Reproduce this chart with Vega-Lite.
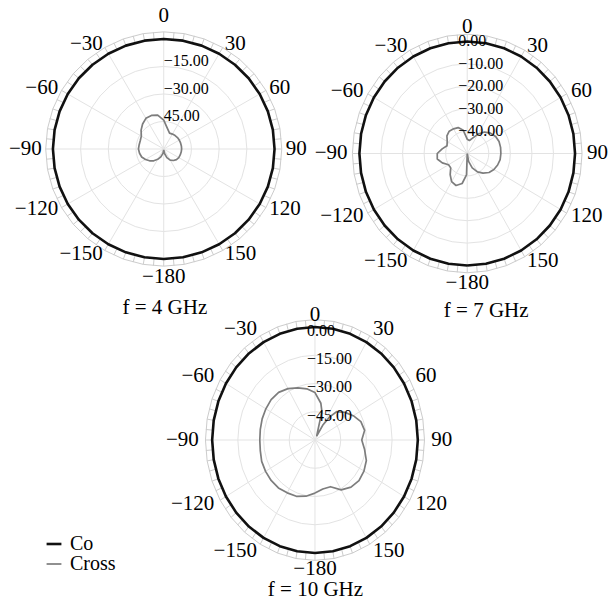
{
"$schema":"https://vega.github.io/schema/vega-lite/v6.json",
"width":608,"height":603,
"autosize":{"type":"fit","contains":"padding"},
"padding":0,
"background":"white",
"config":{"view":{"stroke":null},"text":{"font":"Liberation Serif"}},
"datasets":{
"grid":[
{"f":"4","v":0,"a":[-180,-170,-160,-150,-140,-130,-120,-110,-100,-90,-80,-70,-60,-50,-40,-30,-20,-10,0,10,20,30,40,50,60,70,80,90,100,110,120,130,140,150,160,170,180]},
{"f":"4","v":-15,"a":[-180,-170,-160,-150,-140,-130,-120,-110,-100,-90,-80,-70,-60,-50,-40,-30,-20,-10,0,10,20,30,40,50,60,70,80,90,100,110,120,130,140,150,160,170,180]},
{"f":"4","v":-30,"a":[-180,-170,-160,-150,-140,-130,-120,-110,-100,-90,-80,-70,-60,-50,-40,-30,-20,-10,0,10,20,30,40,50,60,70,80,90,100,110,120,130,140,150,160,170,180]},
{"f":"4","v":-45,"a":[-180,-170,-160,-150,-140,-130,-120,-110,-100,-90,-80,-70,-60,-50,-40,-30,-20,-10,0,10,20,30,40,50,60,70,80,90,100,110,120,130,140,150,160,170,180]},
{"f":"7","v":0,"a":[-180,-170,-160,-150,-140,-130,-120,-110,-100,-90,-80,-70,-60,-50,-40,-30,-20,-10,0,10,20,30,40,50,60,70,80,90,100,110,120,130,140,150,160,170,180]},
{"f":"7","v":-10,"a":[-180,-170,-160,-150,-140,-130,-120,-110,-100,-90,-80,-70,-60,-50,-40,-30,-20,-10,0,10,20,30,40,50,60,70,80,90,100,110,120,130,140,150,160,170,180]},
{"f":"7","v":-20,"a":[-180,-170,-160,-150,-140,-130,-120,-110,-100,-90,-80,-70,-60,-50,-40,-30,-20,-10,0,10,20,30,40,50,60,70,80,90,100,110,120,130,140,150,160,170,180]},
{"f":"7","v":-30,"a":[-180,-170,-160,-150,-140,-130,-120,-110,-100,-90,-80,-70,-60,-50,-40,-30,-20,-10,0,10,20,30,40,50,60,70,80,90,100,110,120,130,140,150,160,170,180]},
{"f":"7","v":-40,"a":[-180,-170,-160,-150,-140,-130,-120,-110,-100,-90,-80,-70,-60,-50,-40,-30,-20,-10,0,10,20,30,40,50,60,70,80,90,100,110,120,130,140,150,160,170,180]},
{"f":"10","v":0,"a":[-180,-170,-160,-150,-140,-130,-120,-110,-100,-90,-80,-70,-60,-50,-40,-30,-20,-10,0,10,20,30,40,50,60,70,80,90,100,110,120,130,140,150,160,170,180]},
{"f":"10","v":-15,"a":[-180,-170,-160,-150,-140,-130,-120,-110,-100,-90,-80,-70,-60,-50,-40,-30,-20,-10,0,10,20,30,40,50,60,70,80,90,100,110,120,130,140,150,160,170,180]},
{"f":"10","v":-30,"a":[-180,-170,-160,-150,-140,-130,-120,-110,-100,-90,-80,-70,-60,-50,-40,-30,-20,-10,0,10,20,30,40,50,60,70,80,90,100,110,120,130,140,150,160,170,180]},
{"f":"10","v":-45,"a":[-180,-170,-160,-150,-140,-130,-120,-110,-100,-90,-80,-70,-60,-50,-40,-30,-20,-10,0,10,20,30,40,50,60,70,80,90,100,110,120,130,140,150,160,170,180]}
],
"sp":[{"a":[0,30,60,90,120,150,180,210,240,270,300,330]}],
"tk":[{"a":[0,5,10,15,20,25,30,35,40,45,50,55,60,65,70,75,80,85,90,95,100,105,110,115,120,125,130,135,140,145,150,155,160,165,170,175,180,185,190,195,200,205,210,215,220,225,230,235,240,245,250,255,260,265,270,275,280,285,290,295,300,305,310,315,320,325,330,335,340,345,350,355]}],
"al":[{"a":0,"t":"0"},{"a":30,"t":"30"},{"a":60,"t":"60"},{"a":90,"t":"90"},{"a":120,"t":"120"},{"a":150,"t":"150"},{"a":180,"t":"−180"},{"a":-150,"t":"−150"},{"a":-120,"t":"−120"},{"a":-90,"t":"−90"},{"a":-60,"t":"−60"},{"a":-30,"t":"−30"}],
"rl":[{"f":"4","v":-15,"t":"−15.00"},{"f":"4","v":-30,"t":"−30.00"},{"f":"4","v":-45,"t":"45.00"},
{"f":"7","v":0,"t":"0.00"},{"f":"7","v":-10,"t":"−10.00"},{"f":"7","v":-20,"t":"−20.00"},{"f":"7","v":-30,"t":"−30.00"},{"f":"7","v":-40,"t":"−40.00"},
{"f":"10","v":0,"t":"0.00"},{"f":"10","v":-15,"t":"−15.00"},{"f":"10","v":-30,"t":"−30.00"},{"f":"10","v":-45,"t":"−45.00"}],
"ttl":[{"f":"4","t":"f = 4 GHz"},{"f":"7","t":"f = 7 GHz"},{"f":"10","t":"f = 10 GHz"}],
"pat":[
{"f":"4","s":"Co","a":-180,"v":0},{"f":"4","s":"Co","a":-170,"v":0},{"f":"4","s":"Co","a":-160,"v":0},{"f":"4","s":"Co","a":-150,"v":0},{"f":"4","s":"Co","a":-140,"v":0},{"f":"4","s":"Co","a":-130,"v":0},{"f":"4","s":"Co","a":-120,"v":0},{"f":"4","s":"Co","a":-110,"v":0},{"f":"4","s":"Co","a":-100,"v":0},{"f":"4","s":"Co","a":-90,"v":0},{"f":"4","s":"Co","a":-80,"v":0},{"f":"4","s":"Co","a":-70,"v":0},{"f":"4","s":"Co","a":-60,"v":0},{"f":"4","s":"Co","a":-50,"v":0},{"f":"4","s":"Co","a":-40,"v":0},{"f":"4","s":"Co","a":-30,"v":0},{"f":"4","s":"Co","a":-20,"v":0},{"f":"4","s":"Co","a":-10,"v":0},{"f":"4","s":"Co","a":0,"v":0},{"f":"4","s":"Co","a":10,"v":0},{"f":"4","s":"Co","a":20,"v":0},{"f":"4","s":"Co","a":30,"v":0},{"f":"4","s":"Co","a":40,"v":0},{"f":"4","s":"Co","a":50,"v":0},{"f":"4","s":"Co","a":60,"v":0},{"f":"4","s":"Co","a":70,"v":0},{"f":"4","s":"Co","a":80,"v":0},{"f":"4","s":"Co","a":90,"v":0},{"f":"4","s":"Co","a":100,"v":0},{"f":"4","s":"Co","a":110,"v":0},{"f":"4","s":"Co","a":120,"v":0},{"f":"4","s":"Co","a":130,"v":0},{"f":"4","s":"Co","a":140,"v":0},{"f":"4","s":"Co","a":150,"v":0},{"f":"4","s":"Co","a":160,"v":0},{"f":"4","s":"Co","a":170,"v":0},{"f":"4","s":"Co","a":180,"v":0},
{"f":"4","s":"Cross","a":-180,"v":-59.5},{"f":"4","s":"Cross","a":-170,"v":-57.6},{"f":"4","s":"Cross","a":-160,"v":-55.4},{"f":"4","s":"Cross","a":-150,"v":-53.5},{"f":"4","s":"Cross","a":-140,"v":-51.6},{"f":"4","s":"Cross","a":-130,"v":-50.0},{"f":"4","s":"Cross","a":-120,"v":-48.6},{"f":"4","s":"Cross","a":-110,"v":-47.3},{"f":"4","s":"Cross","a":-100,"v":-46.7},{"f":"4","s":"Cross","a":-90,"v":-46.3},{"f":"4","s":"Cross","a":-80,"v":-46.5},{"f":"4","s":"Cross","a":-70,"v":-46.5},{"f":"4","s":"Cross","a":-60,"v":-46.0},{"f":"4","s":"Cross","a":-50,"v":-44.0},{"f":"4","s":"Cross","a":-40,"v":-42.2},{"f":"4","s":"Cross","a":-30,"v":-40.7},{"f":"4","s":"Cross","a":-20,"v":-40.5},{"f":"4","s":"Cross","a":-10,"v":-41.2},{"f":"4","s":"Cross","a":0,"v":-44.3},{"f":"4","s":"Cross","a":10,"v":-48.6},{"f":"4","s":"Cross","a":20,"v":-50.8},{"f":"4","s":"Cross","a":30,"v":-50.6},{"f":"4","s":"Cross","a":40,"v":-50.4},{"f":"4","s":"Cross","a":50,"v":-50.3},{"f":"4","s":"Cross","a":60,"v":-50.3},{"f":"4","s":"Cross","a":70,"v":-50.3},{"f":"4","s":"Cross","a":80,"v":-50.3},{"f":"4","s":"Cross","a":90,"v":-50.3},{"f":"4","s":"Cross","a":100,"v":-50.4},{"f":"4","s":"Cross","a":110,"v":-50.5},{"f":"4","s":"Cross","a":120,"v":-50.6},{"f":"4","s":"Cross","a":130,"v":-51.0},{"f":"4","s":"Cross","a":140,"v":-51.8},{"f":"4","s":"Cross","a":150,"v":-53.0},{"f":"4","s":"Cross","a":160,"v":-55.0},{"f":"4","s":"Cross","a":170,"v":-57.5},{"f":"4","s":"Cross","a":180,"v":-59.5},
{"f":"7","s":"Co","a":-180,"v":0},{"f":"7","s":"Co","a":-170,"v":0},{"f":"7","s":"Co","a":-160,"v":0},{"f":"7","s":"Co","a":-150,"v":0},{"f":"7","s":"Co","a":-140,"v":0},{"f":"7","s":"Co","a":-130,"v":0},{"f":"7","s":"Co","a":-120,"v":0},{"f":"7","s":"Co","a":-110,"v":0},{"f":"7","s":"Co","a":-100,"v":0},{"f":"7","s":"Co","a":-90,"v":0},{"f":"7","s":"Co","a":-80,"v":0},{"f":"7","s":"Co","a":-70,"v":0},{"f":"7","s":"Co","a":-60,"v":0},{"f":"7","s":"Co","a":-50,"v":0},{"f":"7","s":"Co","a":-40,"v":0},{"f":"7","s":"Co","a":-30,"v":0},{"f":"7","s":"Co","a":-20,"v":0},{"f":"7","s":"Co","a":-10,"v":0},{"f":"7","s":"Co","a":0,"v":0},{"f":"7","s":"Co","a":10,"v":0},{"f":"7","s":"Co","a":20,"v":0},{"f":"7","s":"Co","a":30,"v":0},{"f":"7","s":"Co","a":40,"v":0},{"f":"7","s":"Co","a":50,"v":0},{"f":"7","s":"Co","a":60,"v":0},{"f":"7","s":"Co","a":70,"v":0},{"f":"7","s":"Co","a":80,"v":0},{"f":"7","s":"Co","a":90,"v":0},{"f":"7","s":"Co","a":100,"v":0},{"f":"7","s":"Co","a":110,"v":0},{"f":"7","s":"Co","a":120,"v":0},{"f":"7","s":"Co","a":130,"v":0},{"f":"7","s":"Co","a":140,"v":0},{"f":"7","s":"Co","a":150,"v":0},{"f":"7","s":"Co","a":160,"v":0},{"f":"7","s":"Co","a":170,"v":0},{"f":"7","s":"Co","a":180,"v":0},
{"f":"7","s":"Cross","a":-180,"v":-50},{"f":"7","s":"Cross","a":-178,"v":-40.5},{"f":"7","s":"Cross","a":-170,"v":-36.4},{"f":"7","s":"Cross","a":-160,"v":-34.8},{"f":"7","s":"Cross","a":-150,"v":-35.5},{"f":"7","s":"Cross","a":-140,"v":-37.7},{"f":"7","s":"Cross","a":-130,"v":-40.0},{"f":"7","s":"Cross","a":-120,"v":-40.0},{"f":"7","s":"Cross","a":-110,"v":-37.7},{"f":"7","s":"Cross","a":-100,"v":-35.9},{"f":"7","s":"Cross","a":-90,"v":-36.1},{"f":"7","s":"Cross","a":-80,"v":-38.2},{"f":"7","s":"Cross","a":-70,"v":-40.0},{"f":"7","s":"Cross","a":-60,"v":-39.3},{"f":"7","s":"Cross","a":-50,"v":-37.7},{"f":"7","s":"Cross","a":-40,"v":-37.0},{"f":"7","s":"Cross","a":-30,"v":-37.3},{"f":"7","s":"Cross","a":-20,"v":-37.7},{"f":"7","s":"Cross","a":-10,"v":-39.5},{"f":"7","s":"Cross","a":0,"v":-43.6},{"f":"7","s":"Cross","a":10,"v":-44.1},{"f":"7","s":"Cross","a":20,"v":-42.7},{"f":"7","s":"Cross","a":30,"v":-40.0},{"f":"7","s":"Cross","a":40,"v":-37.5},{"f":"7","s":"Cross","a":50,"v":-35.9},{"f":"7","s":"Cross","a":60,"v":-34.8},{"f":"7","s":"Cross","a":70,"v":-34.3},{"f":"7","s":"Cross","a":80,"v":-34.3},{"f":"7","s":"Cross","a":90,"v":-34.4},{"f":"7","s":"Cross","a":100,"v":-34.5},{"f":"7","s":"Cross","a":110,"v":-35.0},{"f":"7","s":"Cross","a":120,"v":-35.7},{"f":"7","s":"Cross","a":130,"v":-36.8},{"f":"7","s":"Cross","a":140,"v":-38.6},{"f":"7","s":"Cross","a":150,"v":-40.5},{"f":"7","s":"Cross","a":160,"v":-43.2},{"f":"7","s":"Cross","a":170,"v":-46.4},{"f":"7","s":"Cross","a":180,"v":-50},
{"f":"10","s":"Co","a":-180,"v":0},{"f":"10","s":"Co","a":-170,"v":0},{"f":"10","s":"Co","a":-160,"v":0},{"f":"10","s":"Co","a":-150,"v":0},{"f":"10","s":"Co","a":-140,"v":0},{"f":"10","s":"Co","a":-130,"v":0},{"f":"10","s":"Co","a":-120,"v":0},{"f":"10","s":"Co","a":-110,"v":0},{"f":"10","s":"Co","a":-100,"v":0},{"f":"10","s":"Co","a":-90,"v":0},{"f":"10","s":"Co","a":-80,"v":0},{"f":"10","s":"Co","a":-70,"v":0},{"f":"10","s":"Co","a":-60,"v":0},{"f":"10","s":"Co","a":-50,"v":0},{"f":"10","s":"Co","a":-40,"v":0},{"f":"10","s":"Co","a":-30,"v":0},{"f":"10","s":"Co","a":-20,"v":0},{"f":"10","s":"Co","a":-10,"v":0},{"f":"10","s":"Co","a":0,"v":0},{"f":"10","s":"Co","a":10,"v":0},{"f":"10","s":"Co","a":20,"v":0},{"f":"10","s":"Co","a":30,"v":0},{"f":"10","s":"Co","a":40,"v":0},{"f":"10","s":"Co","a":50,"v":0},{"f":"10","s":"Co","a":60,"v":0},{"f":"10","s":"Co","a":70,"v":0},{"f":"10","s":"Co","a":80,"v":0},{"f":"10","s":"Co","a":90,"v":0},{"f":"10","s":"Co","a":100,"v":0},{"f":"10","s":"Co","a":110,"v":0},{"f":"10","s":"Co","a":120,"v":0},{"f":"10","s":"Co","a":130,"v":0},{"f":"10","s":"Co","a":140,"v":0},{"f":"10","s":"Co","a":150,"v":0},{"f":"10","s":"Co","a":160,"v":0},{"f":"10","s":"Co","a":170,"v":0},{"f":"10","s":"Co","a":180,"v":0},
{"f":"10","s":"Cross","a":-180,"v":-31.8},{"f":"10","s":"Cross","a":-170,"v":-29.7},{"f":"10","s":"Cross","a":-160,"v":-28.2},{"f":"10","s":"Cross","a":-150,"v":-27.6},{"f":"10","s":"Cross","a":-140,"v":-26.8},{"f":"10","s":"Cross","a":-130,"v":-26.6},{"f":"10","s":"Cross","a":-120,"v":-26.7},{"f":"10","s":"Cross","a":-110,"v":-26.9},{"f":"10","s":"Cross","a":-100,"v":-27.6},{"f":"10","s":"Cross","a":-90,"v":-27.8},{"f":"10","s":"Cross","a":-80,"v":-27.6},{"f":"10","s":"Cross","a":-70,"v":-27.2},{"f":"10","s":"Cross","a":-60,"v":-26.9},{"f":"10","s":"Cross","a":-50,"v":-26.6},{"f":"10","s":"Cross","a":-40,"v":-27.0},{"f":"10","s":"Cross","a":-30,"v":-28.5},{"f":"10","s":"Cross","a":-20,"v":-30.6},{"f":"10","s":"Cross","a":-10,"v":-32.4},{"f":"10","s":"Cross","a":0,"v":-34.8},{"f":"10","s":"Cross","a":10,"v":-40.2},{"f":"10","s":"Cross","a":15,"v":-44.4},{"f":"10","s":"Cross","a":20,"v":-56.0},{"f":"10","s":"Cross","a":25,"v":-57.5},{"f":"10","s":"Cross","a":30,"v":-51.0},{"f":"10","s":"Cross","a":35,"v":-45.0},{"f":"10","s":"Cross","a":40,"v":-40.4},{"f":"10","s":"Cross","a":50,"v":-37.2},{"f":"10","s":"Cross","a":60,"v":-34.2},{"f":"10","s":"Cross","a":70,"v":-31.5},{"f":"10","s":"Cross","a":80,"v":-30.6},{"f":"10","s":"Cross","a":90,"v":-32.7},{"f":"10","s":"Cross","a":100,"v":-30.6},{"f":"10","s":"Cross","a":110,"v":-28.1},{"f":"10","s":"Cross","a":120,"v":-27.0},{"f":"10","s":"Cross","a":130,"v":-26.5},{"f":"10","s":"Cross","a":140,"v":-27.3},{"f":"10","s":"Cross","a":150,"v":-29.4},{"f":"10","s":"Cross","a":160,"v":-33.6},{"f":"10","s":"Cross","a":170,"v":-33.6},{"f":"10","s":"Cross","a":180,"v":-31.8}
]
},
"layer":[
{
"encoding":{
"x":{"field":"x","type":"quantitative","scale":{"domain":[-1.4775,4.0],"nice":false,"zero":false},"axis":null},
"y":{"field":"y","type":"quantitative","scale":{"domain":[-4.1273,1.3545],"nice":false,"zero":false},"axis":null}
},
"layer":[
{"data":{"name":"grid"},"transform":[{"filter":"datum.f=='4'"},{"flatten":["a"]},{"calculate":"(datum.v+60)/60","as":"r"},{"calculate":"datum.r*sin(datum.a*PI/180)","as":"x"},{"calculate":"datum.r*cos(datum.a*PI/180)","as":"y"}],"mark":{"type":"line","stroke":"#e3e3e3","strokeWidth":1},"encoding":{"detail":{"field":"v","type":"nominal"},"order":{"field":"a","type":"quantitative"}}},
{"data":{"name":"grid"},"transform":[{"filter":"datum.f=='4' && datum.v==0"},{"flatten":["a"]},{"calculate":"1.065*sin(datum.a*PI/180)","as":"x"},{"calculate":"1.065*cos(datum.a*PI/180)","as":"y"}],"mark":{"type":"line","stroke":"#cccccc","strokeWidth":1},"encoding":{"order":{"field":"a","type":"quantitative"}}},
{"data":{"name":"sp"},"transform":[{"flatten":["a"]},{"calculate":"0","as":"x"},{"calculate":"0","as":"y"},{"calculate":"sin(datum.a*PI/180)","as":"x2"},{"calculate":"cos(datum.a*PI/180)","as":"y2"}],"mark":{"type":"rule","stroke":"#e3e3e3","strokeWidth":1},"encoding":{"x2":{"field":"x2"},"y2":{"field":"y2"}}},
{"data":{"name":"tk"},"transform":[{"flatten":["a"]},{"calculate":"sin(datum.a*PI/180)","as":"x"},{"calculate":"cos(datum.a*PI/180)","as":"y"},{"calculate":"1.065*datum.x","as":"x2"},{"calculate":"1.065*datum.y","as":"y2"}],"mark":{"type":"rule","stroke":"#cccccc","strokeWidth":1},"encoding":{"x2":{"field":"x2"},"y2":{"field":"y2"}}},
{"data":{"name":"pat"},"transform":[{"filter":"datum.f=='4'"},{"calculate":"max(0,(datum.v+60)/60)","as":"r"},{"calculate":"datum.r*sin(datum.a*PI/180)","as":"x"},{"calculate":"datum.r*cos(datum.a*PI/180)","as":"y"}],"mark":{"type":"line","strokeJoin":"round"},"encoding":{"color":{"field":"s","type":"nominal","scale":{"domain":["Co","Cross"],"range":["#111111","#7d7d7d"]},"legend":{"title":null,"orient":"none","legendX":44,"legendY":534,"symbolType":"stroke","symbolSize":220,"labelFont":"Liberation Serif","labelFontSize":20,"labelColor":"#000","padding":0,"rowPadding":0,"labelOffset":6}},"strokeWidth":{"field":"s","type":"nominal","scale":{"domain":["Co","Cross"],"range":[2.6,1.7]},"legend":{"title":null,"orient":"none","legendX":44,"legendY":534,"symbolType":"stroke","symbolSize":220,"labelFont":"Liberation Serif","labelFontSize":20,"labelColor":"#000","padding":0,"rowPadding":0,"labelOffset":6}},"order":{"field":"a","type":"quantitative"}}},
{"data":{"name":"rl"},"transform":[{"filter":"datum.f=='4'"},{"calculate":"0","as":"x"},{"calculate":"(datum.v+60)/60","as":"y"}],"mark":{"type":"text","align":"left","baseline":"middle","dx":0,"dy":-5,"fontSize":16,"font":"Liberation Serif","color":"#000"},"encoding":{"text":{"field":"t"}}},
{"data":{"name":"al"},"transform":[{"filter":"datum.a>0 && datum.a<180"},{"calculate":"1.1*sin(datum.a*PI/180)","as":"x"},{"calculate":"1.1*cos(datum.a*PI/180)","as":"y"}],"mark":{"type":"text","align":"left","baseline":"middle","fontSize":21,"font":"Liberation Serif","color":"#000"},"encoding":{"text":{"field":"t"}}},
{"data":{"name":"al"},"transform":[{"filter":"datum.a<0"},{"calculate":"1.1*sin(datum.a*PI/180)","as":"x"},{"calculate":"1.1*cos(datum.a*PI/180)","as":"y"}],"mark":{"type":"text","align":"right","baseline":"middle","fontSize":21,"font":"Liberation Serif","color":"#000"},"encoding":{"text":{"field":"t"}}},
{"data":{"name":"al"},"transform":[{"filter":"datum.a==0 || datum.a==180"},{"calculate":"0","as":"x"},{"calculate":"datum.a==0 ? 1.21 : -1.16","as":"y"}],"mark":{"type":"text","align":"center","baseline":"middle","fontSize":21,"font":"Liberation Serif","color":"#000"},"encoding":{"text":{"field":"t"}}},
{"data":{"name":"ttl"},"transform":[{"filter":"datum.f=='4'"},{"calculate":"0.01","as":"x"},{"calculate":"-1.445","as":"y"}],"mark":{"type":"text","align":"center","baseline":"middle","fontSize":21,"font":"Liberation Serif","color":"#000"},"encoding":{"text":{"field":"t"}}}
]
},
{
"encoding":{
"x":{"field":"x","type":"quantitative","scale":{"domain":[-4.3333,1.2963],"nice":false,"zero":false},"axis":null},
"y":{"field":"y","type":"quantitative","scale":{"domain":[-4.0134,1.3705],"nice":false,"zero":false},"axis":null}
},
"layer":[
{"data":{"name":"grid"},"transform":[{"filter":"datum.f=='7'"},{"flatten":["a"]},{"calculate":"(datum.v+50)/50","as":"r"},{"calculate":"datum.r*sin(datum.a*PI/180)","as":"x"},{"calculate":"datum.r*cos(datum.a*PI/180)","as":"y"}],"mark":{"type":"line","stroke":"#e3e3e3","strokeWidth":1},"encoding":{"detail":{"field":"v","type":"nominal"},"order":{"field":"a","type":"quantitative"}}},
{"data":{"name":"grid"},"transform":[{"filter":"datum.f=='7' && datum.v==0"},{"flatten":["a"]},{"calculate":"1.065*sin(datum.a*PI/180)","as":"x"},{"calculate":"1.065*cos(datum.a*PI/180)","as":"y"}],"mark":{"type":"line","stroke":"#cccccc","strokeWidth":1},"encoding":{"order":{"field":"a","type":"quantitative"}}},
{"data":{"name":"sp"},"transform":[{"flatten":["a"]},{"calculate":"0","as":"x"},{"calculate":"0","as":"y"},{"calculate":"sin(datum.a*PI/180)","as":"x2"},{"calculate":"cos(datum.a*PI/180)","as":"y2"}],"mark":{"type":"rule","stroke":"#e3e3e3","strokeWidth":1},"encoding":{"x2":{"field":"x2"},"y2":{"field":"y2"}}},
{"data":{"name":"tk"},"transform":[{"flatten":["a"]},{"calculate":"sin(datum.a*PI/180)","as":"x"},{"calculate":"cos(datum.a*PI/180)","as":"y"},{"calculate":"1.065*datum.x","as":"x2"},{"calculate":"1.065*datum.y","as":"y2"}],"mark":{"type":"rule","stroke":"#cccccc","strokeWidth":1},"encoding":{"x2":{"field":"x2"},"y2":{"field":"y2"}}},
{"data":{"name":"pat"},"transform":[{"filter":"datum.f=='7'"},{"calculate":"max(0,(datum.v+50)/50)","as":"r"},{"calculate":"datum.r*sin(datum.a*PI/180)","as":"x"},{"calculate":"datum.r*cos(datum.a*PI/180)","as":"y"}],"mark":{"type":"line","strokeJoin":"round"},"encoding":{"color":{"field":"s","type":"nominal","scale":{"domain":["Co","Cross"],"range":["#111111","#7d7d7d"]}},"strokeWidth":{"field":"s","type":"nominal","scale":{"domain":["Co","Cross"],"range":[2.6,1.7]}},"order":{"field":"a","type":"quantitative"}}},
{"data":{"name":"rl"},"transform":[{"filter":"datum.f=='7'"},{"calculate":"0","as":"x"},{"calculate":"(datum.v+50)/50","as":"y"}],"mark":{"type":"text","align":"left","baseline":"middle","dx":-9,"dy":0,"fontSize":16,"font":"Liberation Serif","color":"#000"},"encoding":{"text":{"field":"t"}}},
{"data":{"name":"al"},"transform":[{"filter":"datum.a>0 && datum.a<180"},{"calculate":"1.11*sin(datum.a*PI/180)","as":"x"},{"calculate":"1.11*cos(datum.a*PI/180)","as":"y"}],"mark":{"type":"text","align":"left","baseline":"middle","fontSize":21,"font":"Liberation Serif","color":"#000"},"encoding":{"text":{"field":"t"}}},
{"data":{"name":"al"},"transform":[{"filter":"datum.a<0"},{"calculate":"1.11*sin(datum.a*PI/180)","as":"x"},{"calculate":"1.11*cos(datum.a*PI/180)","as":"y"}],"mark":{"type":"text","align":"right","baseline":"middle","fontSize":21,"font":"Liberation Serif","color":"#000"},"encoding":{"text":{"field":"t"}}},
{"data":{"name":"al"},"transform":[{"filter":"datum.a==0 || datum.a==180"},{"calculate":"0","as":"x"},{"calculate":"datum.a==0 ? 1.13 : -1.155","as":"y"}],"mark":{"type":"text","align":"center","baseline":"middle","fontSize":21,"font":"Liberation Serif","color":"#000"},"encoding":{"text":{"field":"t"}}},
{"data":{"name":"ttl"},"transform":[{"filter":"datum.f=='7'"},{"calculate":"0.176","as":"x"},{"calculate":"-1.41","as":"y"}],"mark":{"type":"text","align":"center","baseline":"middle","fontSize":21,"font":"Liberation Serif","color":"#000"},"encoding":{"text":{"field":"t"}}}
]
},
{
"encoding":{
"x":{"field":"x","type":"quantitative","scale":{"domain":[-3.0631,2.8398],"nice":false,"zero":false},"axis":null},
"y":{"field":"y","type":"quantitative","scale":{"domain":[-1.4425,3.8938],"nice":false,"zero":false},"axis":null}
},
"layer":[
{"data":{"name":"grid"},"transform":[{"filter":"datum.f=='10'"},{"flatten":["a"]},{"calculate":"(datum.v+60)/60","as":"r"},{"calculate":"datum.r*sin(datum.a*PI/180)","as":"x"},{"calculate":"datum.r*cos(datum.a*PI/180)","as":"y"}],"mark":{"type":"line","stroke":"#e3e3e3","strokeWidth":1},"encoding":{"detail":{"field":"v","type":"nominal"},"order":{"field":"a","type":"quantitative"}}},
{"data":{"name":"grid"},"transform":[{"filter":"datum.f=='10' && datum.v==0"},{"flatten":["a"]},{"calculate":"1.065*sin(datum.a*PI/180)","as":"x"},{"calculate":"1.065*cos(datum.a*PI/180)","as":"y"}],"mark":{"type":"line","stroke":"#cccccc","strokeWidth":1},"encoding":{"order":{"field":"a","type":"quantitative"}}},
{"data":{"name":"sp"},"transform":[{"flatten":["a"]},{"calculate":"0","as":"x"},{"calculate":"0","as":"y"},{"calculate":"sin(datum.a*PI/180)","as":"x2"},{"calculate":"cos(datum.a*PI/180)","as":"y2"}],"mark":{"type":"rule","stroke":"#e3e3e3","strokeWidth":1},"encoding":{"x2":{"field":"x2"},"y2":{"field":"y2"}}},
{"data":{"name":"tk"},"transform":[{"flatten":["a"]},{"calculate":"sin(datum.a*PI/180)","as":"x"},{"calculate":"cos(datum.a*PI/180)","as":"y"},{"calculate":"1.065*datum.x","as":"x2"},{"calculate":"1.065*datum.y","as":"y2"}],"mark":{"type":"rule","stroke":"#cccccc","strokeWidth":1},"encoding":{"x2":{"field":"x2"},"y2":{"field":"y2"}}},
{"data":{"name":"pat"},"transform":[{"filter":"datum.f=='10'"},{"calculate":"max(0,(datum.v+60)/60)","as":"r"},{"calculate":"datum.r*sin(datum.a*PI/180)","as":"x"},{"calculate":"datum.r*cos(datum.a*PI/180)","as":"y"}],"mark":{"type":"line","strokeJoin":"round"},"encoding":{"color":{"field":"s","type":"nominal","scale":{"domain":["Co","Cross"],"range":["#111111","#7d7d7d"]}},"strokeWidth":{"field":"s","type":"nominal","scale":{"domain":["Co","Cross"],"range":[2.6,1.7]}},"order":{"field":"a","type":"quantitative"}}},
{"data":{"name":"rl"},"transform":[{"filter":"datum.f=='10'"},{"calculate":"0","as":"x"},{"calculate":"(datum.v+60)/60","as":"y"}],"mark":{"type":"text","align":"left","baseline":"middle","dx":-8,"dy":4,"fontSize":16,"font":"Liberation Serif","color":"#000"},"encoding":{"text":{"field":"t"}}},
{"data":{"name":"al"},"transform":[{"filter":"datum.a>0 && datum.a<180"},{"calculate":"1.13*sin(datum.a*PI/180)","as":"x"},{"calculate":"1.13*cos(datum.a*PI/180)","as":"y"}],"mark":{"type":"text","align":"left","baseline":"middle","fontSize":21,"font":"Liberation Serif","color":"#000"},"encoding":{"text":{"field":"t"}}},
{"data":{"name":"al"},"transform":[{"filter":"datum.a<0"},{"calculate":"1.13*sin(datum.a*PI/180)","as":"x"},{"calculate":"1.13*cos(datum.a*PI/180)","as":"y"}],"mark":{"type":"text","align":"right","baseline":"middle","fontSize":21,"font":"Liberation Serif","color":"#000"},"encoding":{"text":{"field":"t"}}},
{"data":{"name":"al"},"transform":[{"filter":"datum.a==0 || datum.a==180"},{"calculate":"0","as":"x"},{"calculate":"datum.a==0 ? 1.11 : -1.14","as":"y"}],"mark":{"type":"text","align":"center","baseline":"middle","fontSize":21,"font":"Liberation Serif","color":"#000"},"encoding":{"text":{"field":"t"}}},
{"data":{"name":"ttl"},"transform":[{"filter":"datum.f=='10'"},{"calculate":"0.005","as":"x"},{"calculate":"-1.33","as":"y"}],"mark":{"type":"text","align":"center","baseline":"middle","fontSize":21,"font":"Liberation Serif","color":"#000"},"encoding":{"text":{"field":"t"}}}
]
}
],
"resolve":{"scale":{"x":"independent","y":"independent"}}
}
